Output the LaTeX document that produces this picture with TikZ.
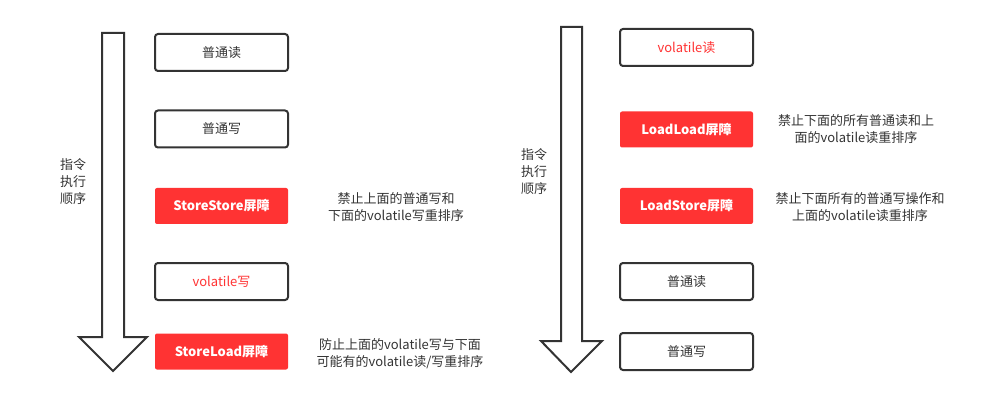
\documentclass[tikz,border=0pt]{standalone}
\usepackage{fontspec}
\setmainfont{Noto Sans CJK SC}
\definecolor{ink}{HTML}{333333}
\definecolor{barrier}{HTML}{FF3333}
\begin{document}
\begin{tikzpicture}[x=1pt,y=-1pt,
  opbox/.style={draw=ink,line width=2pt,rounded corners=3pt,fill=white,minimum width=133pt,minimum height=37pt,inner sep=0pt,text=ink,font=\fontsize{13}{15}\selectfont},
  barbox/.style={fill=barrier,rounded corners=2pt,minimum width=133pt,minimum height=36pt,inner sep=0pt,text=white,font=\fontsize{13}{15}\selectfont\bfseries},
  note/.style={align=center,text=ink,inner sep=0pt,font=\fontsize{13}{17}\selectfont},
  side/.style={align=left,text=ink,inner sep=0pt,anchor=north west,font=\fontsize{13}{17}\selectfont},
  flowarrow/.style={draw=ink,line width=2pt,fill=white,line join=miter}]
\useasboundingbox (0,0) rectangle (1000,403);
% left arrow
\draw[flowarrow] (102,33) -- (124,33) -- (124,337) -- (147,337) -- (113,371) -- (79,337) -- (102,337) -- cycle;
% right arrow
\draw[flowarrow] (561,27) -- (582,27) -- (582,341) -- (602,341) -- (571,372) -- (541,341) -- (561,341) -- cycle;
% left column
\node[side] (lorder) at (60,158) {指令\\执行\\顺序};
\node[opbox] (l1) at (221.5,52.5) {普通读};
\node[opbox] (l2) at (221.5,129) {普通写};
\node[barbox] (l3) at (221.5,206) {StoreStore屏障};
\node[opbox,text=barrier] (l4) at (221.5,281.5) {volatile写};
\node[barbox] (l5) at (221.5,351.5) {StoreLoad屏障};
\node[note] (ln3) at (396,207.5) {禁止上面的普通写和\\下面的volatile写重排序};
\node[note] (ln5) at (400,353.5) {防止上面的volatile写与下面\\可能有的volatile读/写重排序};
% right column
\node[side] (rorder) at (521,148) {指令\\执行\\顺序};
\node[opbox,text=barrier] (r1) at (686.5,47.5) {volatile读};
\node[barbox] (r2) at (686.5,129.5) {LoadLoad屏障};
\node[barbox] (r3) at (686.5,206) {LoadStore屏障};
\node[opbox] (r4) at (686.5,281.5) {普通读};
\node[opbox] (r5) at (686.5,351.5) {普通写};
\node[note] (rn2) at (856,129.5) {禁止下面的所有普通读和上\\面的volatile读重排序};
\node[note] (rn3) at (860,207.5) {禁止下面所有的普通写操作和\\上面的volatile读重排序};
\end{tikzpicture}
\end{document}
